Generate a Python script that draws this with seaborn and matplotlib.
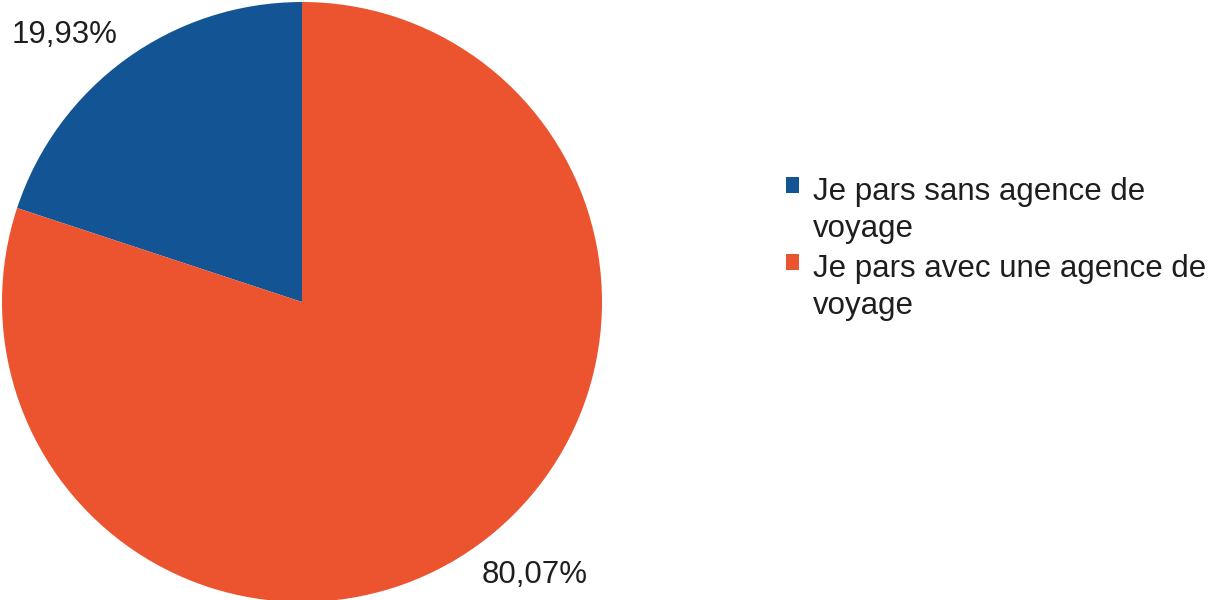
import matplotlib
matplotlib.use("Agg")
import matplotlib.pyplot as plt
from matplotlib.patches import Patch
import seaborn as sns

# data
categories = ["Je pars sans agence de\nvoyage", "Je pars avec une agence de\nvoyage"]
shares = [19.93, 80.07]
pct_labels = ["19,93%", "80,07%"]
colors = ["#135594", "#EC5430"]

sns.set_theme(style="white")
plt.rcParams["font.family"] = ["Liberation Sans", "DejaVu Sans"]
text_color = "#1e1e1e"

fig = plt.figure(figsize=(12.09, 6.0), dpi=100)
ax = fig.add_axes([2 / 1209, -2 / 600, 600 / 1209, 1.0])

wedges, _ = ax.pie(shares, colors=colors, startangle=90, counterclock=True,
                   radius=1.0, wedgeprops=dict(linewidth=0))
ax.set_xlim(-1, 1)
ax.set_ylim(-1, 1)
ax.set_aspect("equal")
ax.axis("off")

# percentage labels outside the pie
label_pos = [(-0.79, 0.89), (0.777, -0.91)]
for (x, y), txt in zip(label_pos, pct_labels):
    ax.text(x, y, txt, ha="center", va="center", fontsize=22.5, color=text_color)

handles = [Patch(facecolor=c, edgecolor="none") for c in colors]
leg = fig.legend(handles, categories, loc="upper left",
                 bbox_to_anchor=(786 / 1209, 1 - 177 / 600),
                 frameon=False, fontsize=22.5, borderpad=0, borderaxespad=0,
                 handlelength=0.42, handleheight=0.42, handletextpad=0.45,
                 labelspacing=0.3, labelcolor=text_color)
for t in leg.get_texts():
    t.set_linespacing(1.32)
# put the square next to the first line of each label
for col in leg._legend_handle_box.get_children():
    for row in col.get_children():
        row.align = "top"

fig.savefig("out.png", dpi=100)
